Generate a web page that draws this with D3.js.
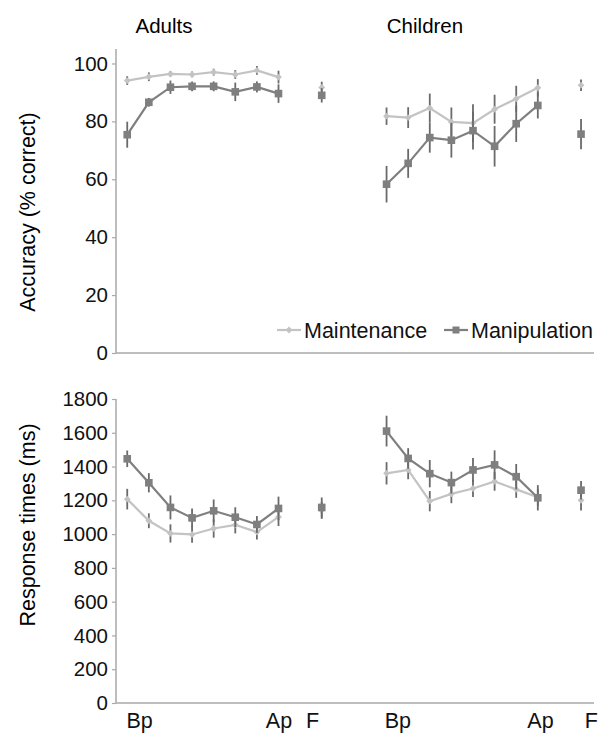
<!DOCTYPE html>
<html>
<head>
<meta charset="utf-8">
<script src="https://cdn.jsdelivr.net/npm/d3@7"></script>
<style>
  body { margin: 0; background: #fff; }
  text { font-family: "Liberation Sans", Arial, sans-serif; }
</style>
</head>
<body>
<svg id="chart"></svg>
<script>
// category positions on the shared x scale (sessions Bp..Ap, then F)
let adultX = [0, 1, 2, 3, 4, 5, 6, 7]
let adultFX = 9
let childX = [12, 13, 14, 15, 16, 17, 18, 19]
let childFX = 21

// x tick labels and where they sit on the category scale
let xTickLabels = ['Bp', 'Ap', 'F', 'Bp', 'Ap', 'F']
let xTickPos = [0.55, 7.0, 8.55, 12.5, 19.1, 21.45]

let accTicks = [0, 20, 40, 60, 80, 100]
let rtTicks = [0, 200, 400, 600, 800, 1000, 1200, 1400, 1600, 1800]

// accuracy (% correct)
let accAdultMaint = [94.1, 95.4, 96.4, 96.2, 97.0, 96.2, 97.6, 95.3]
let accAdultMaintErr = [1.5, 1.5, 1, 1, 1.2, 1.5, 1.5, 2.2]
let accAdultManip = [75.4, 86.6, 91.8, 92.1, 92.1, 90.2, 91.9, 89.6]
let accAdultManipErr = [4.5, 1.5, 2.3, 1.7, 1.7, 3.2, 1.9, 3.2]
let accAdultF = [91.7, 89.0]       // maintenance, manipulation
let accAdultFErr = [2, 2.5]

let accChildMaint = [81.8, 81.3, 84.6, 79.8, 79.4, 84.2, 87.8, 91.6]
let accChildMaintErr = [3, 3.6, 5, 5, 6.5, 5, 4.5, 3]
let accChildManip = [58.3, 65.5, 74.4, 73.5, 76.8, 71.4, 79.2, 85.5]
let accChildManipErr = [6.3, 5, 5.2, 6, 6.5, 7, 6.3, 4.5]
let accChildF = [92.5, 75.6]
let accChildFErr = [2, 5.2]

// response times (ms)
let rtAdultMaint = [1207, 1079, 1004, 998, 1033, 1055, 1012, 1102]
let rtAdultMaintErr = [61, 44, 54, 49, 54, 51, 44, 54]
let rtAdultManip = [1446, 1304, 1158, 1096, 1138, 1100, 1057, 1152]
let rtAdultManipErr = [49, 57, 71, 56, 67, 59, 50, 70]
let rtAdultF = [1140, 1158]
let rtAdultFErr = [50, 59]

let rtChildMaint = [1360, 1380, 1195, 1238, 1270, 1312, 1265, 1218]
let rtChildMaintErr = [66, 55, 60, 55, 50, 55, 50, 50]
let rtChildManip = [1610, 1448, 1358, 1305, 1380, 1410, 1340, 1215]
let rtChildManipErr = [91, 61, 81, 65, 70, 86, 75, 75]
let rtChildF = [1200, 1260]
let rtChildFErr = [60, 55]

let w = 605
let h = 737
let axisColor = '#a9a9a9'
let maintColor = '#c3c3c3'
let manipColor = '#7f7f7f'
let errColor = '#6a6a6a'

let svg = d3.select('#chart').attr('width', w).attr('height', h)

let xScale = d3.scaleLinear().domain([-0.52, 21.6]).range([116, 594])
let accScale = d3.scaleLinear().domain([0, 105]).range([353, 49])
let rtScale = d3.scaleLinear().domain([0, 1800]).range([703, 399])

// builds points from x positions + values + errors
let makePoints = (xs, vals, errs) => {
    return xs.map((x, i) => ({ x: x, v: vals[i], e: errs[i] }))
}

let drawSeries = (g, yScale, points, color, marker, connect) => {
    if (connect) {
        let line = d3.line().x(d => xScale(d.x)).y(d => yScale(d.v))
        g.append('path')
            .datum(points)
            .attr('d', line)
            .attr('fill', 'none')
            .attr('stroke', color)
            .attr('stroke-width', 2.2)
    }
    g.selectAll(null)
        .data(points)
        .enter()
        .append('line')
        .attr('x1', d => xScale(d.x))
        .attr('x2', d => xScale(d.x))
        .attr('y1', d => yScale(d.v - d.e))
        .attr('y2', d => yScale(d.v + d.e))
        .attr('stroke', errColor)
        .attr('stroke-width', 1.8)
    if (marker === 'square') {
        g.selectAll(null)
            .data(points)
            .enter()
            .append('rect')
            .attr('x', d => xScale(d.x) - 3.8)
            .attr('y', d => yScale(d.v) - 3.8)
            .attr('width', 7.6)
            .attr('height', 7.6)
            .attr('fill', color)
    } else {
        g.selectAll(null)
            .data(points)
            .enter()
            .append('path')
            .attr('d', d3.symbol().type(d3.symbolDiamond2).size(30))
            .attr('transform', d => 'translate(' + xScale(d.x) + ',' + yScale(d.v) + ')')
            .attr('fill', color)
    }
}

let drawPanel = (yScale, ticks, series, showXLabels) => {
    let g = svg.append('g')

    let yAxis = d3.axisLeft(yScale).tickValues(ticks).tickSize(4).tickPadding(4).tickFormat(d3.format('d'))
    let ya = g.append('g')
        .attr('transform', 'translate(' + xScale.range()[0] + ',0)')
        .call(yAxis)
    ya.select('.domain').attr('stroke', axisColor).attr('stroke-width', 1.5)
        .attr('d', 'M0,' + yScale.range()[1] + 'V' + yScale.range()[0])
    ya.selectAll('.tick line').attr('stroke', axisColor).attr('stroke-width', 1.2)
    ya.selectAll('.tick text').attr('fill', '#111').style('font-size', '20.5px')

    let xAxis = d3.axisBottom(xScale)
        .tickValues(showXLabels ? xTickPos : [])
        .tickSize(0)
        .tickPadding(10)
        .tickFormat((d, i) => xTickLabels[i])
    let xa = g.append('g')
        .attr('transform', 'translate(0,' + yScale(0) + ')')
        .call(xAxis)
    xa.select('.domain').attr('stroke', axisColor).attr('stroke-width', 1.5)
        .attr('d', 'M' + xScale.range()[0] + ',0H' + xScale.range()[1])
    xa.selectAll('.tick text').attr('fill', '#111').style('font-size', '21.5px')

    series.forEach(s => {
        drawSeries(g, yScale, s.points, s.color, s.marker, s.connect)
    })
}

drawPanel(accScale, accTicks, [
    { points: makePoints(adultX, accAdultMaint, accAdultMaintErr), color: maintColor, marker: 'diamond', connect: true },
    { points: makePoints(childX, accChildMaint, accChildMaintErr), color: maintColor, marker: 'diamond', connect: true },
    { points: makePoints([adultFX, childFX], [accAdultF[0], accChildF[0]], [accAdultFErr[0], accChildFErr[0]]), color: maintColor, marker: 'diamond', connect: false },
    { points: makePoints(adultX, accAdultManip, accAdultManipErr), color: manipColor, marker: 'square', connect: true },
    { points: makePoints(childX, accChildManip, accChildManipErr), color: manipColor, marker: 'square', connect: true },
    { points: makePoints([adultFX, childFX], [accAdultF[1], accChildF[1]], [accAdultFErr[1], accChildFErr[1]]), color: manipColor, marker: 'square', connect: false }
], false)

drawPanel(rtScale, rtTicks, [
    { points: makePoints(adultX, rtAdultMaint, rtAdultMaintErr), color: maintColor, marker: 'diamond', connect: true },
    { points: makePoints(childX, rtChildMaint, rtChildMaintErr), color: maintColor, marker: 'diamond', connect: true },
    { points: makePoints([adultFX, childFX], [rtAdultF[0], rtChildF[0]], [rtAdultFErr[0], rtChildFErr[0]]), color: maintColor, marker: 'diamond', connect: false },
    { points: makePoints(adultX, rtAdultManip, rtAdultManipErr), color: manipColor, marker: 'square', connect: true },
    { points: makePoints(childX, rtChildManip, rtChildManipErr), color: manipColor, marker: 'square', connect: true },
    { points: makePoints([adultFX, childFX], [rtAdultF[1], rtChildF[1]], [rtAdultFErr[1], rtChildFErr[1]]), color: manipColor, marker: 'square', connect: false }
], true)

// panel titles
svg.append('text').attr('x', 164).attr('y', 33).attr('text-anchor', 'middle')
    .style('font-size', '20.5px').text('Adults')
svg.append('text').attr('x', 425).attr('y', 33).attr('text-anchor', 'middle')
    .style('font-size', '20.5px').text('Children')

// y axis titles
svg.append('text').attr('transform', 'translate(35,212) rotate(-90)')
    .attr('text-anchor', 'middle').style('font-size', '21.5px').text('Accuracy (% correct)')
svg.append('text').attr('transform', 'translate(35,525) rotate(-90)')
    .attr('text-anchor', 'middle').style('font-size', '21.5px').text('Response times (ms)')

// legend
let legend = svg.append('g').attr('transform', 'translate(277,330)')
let legendItems = [
    { name: 'Maintenance', color: maintColor, marker: 'diamond', x: 0 },
    { name: 'Manipulation', color: manipColor, marker: 'square', x: 167 }
]
legendItems.forEach(item => {
    let lg = legend.append('g').attr('transform', 'translate(' + item.x + ',0)')
    lg.append('line').attr('x1', 0).attr('x2', 24).attr('y1', 0).attr('y2', 0)
        .attr('stroke', item.color).attr('stroke-width', 2.2)
    if (item.marker === 'square') {
        lg.append('rect').attr('x', 8.5).attr('y', -3.5).attr('width', 7).attr('height', 7).attr('fill', item.color)
    } else {
        lg.append('path').attr('d', d3.symbol().type(d3.symbolDiamond2).size(30))
            .attr('transform', 'translate(12,0)').attr('fill', item.color)
    }
    lg.append('text').attr('x', 27).attr('y', 7.5).style('font-size', '21.5px').attr('fill', '#111').text(item.name)
})
</script>
</body>
</html>
